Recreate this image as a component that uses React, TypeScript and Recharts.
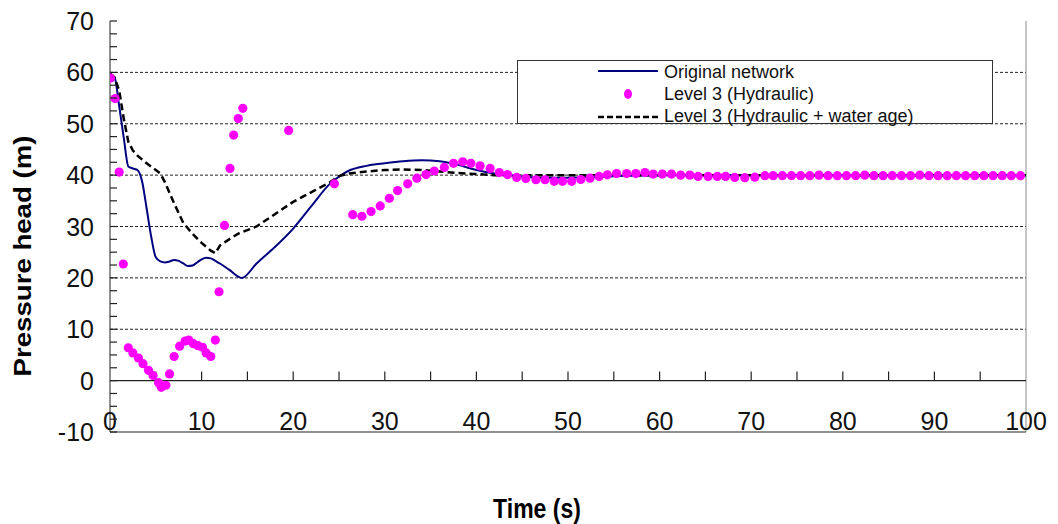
import { ComposedChart, Line, Scatter, XAxis, YAxis, ReferenceLine, Legend } from "recharts";

const FONT = '"Liberation Sans", Arial, sans-serif';

const xTicks = [0, 10, 20, 30, 40, 50, 60, 70, 80, 90, 100];
const xMinorTicks = [5, 10, 15, 20, 25, 30, 35, 40, 45, 50, 55, 60, 65, 70, 75, 80, 85, 90, 95];
const yTicks = [
  -10, -7.5, -5, -2.5, 0, 2.5, 5, 7.5, 10, 12.5, 15, 17.5, 20, 22.5, 25, 27.5, 30, 32.5, 35, 37.5,
  40, 42.5, 45, 47.5, 50, 52.5, 55, 57.5, 60, 62.5, 65, 67.5, 70,
];
const gridLevels = [10, 20, 30, 40, 50, 60];

// Original network (solid navy line)
const originalTime = [
  0, 0.5, 1, 1.5, 2, 2.5, 3, 3.5, 4, 4.5,
  5, 5.5, 6, 6.5, 7, 7.5, 8, 8.5, 9, 9.5,
  10, 10.5, 11, 11.5, 12, 13, 14.4, 16, 18, 20,
  22, 24, 25, 26, 28, 30, 32, 34, 36, 38,
  40, 42, 44, 46, 48, 50, 55, 60, 70, 80,
  90, 100,
];
const originalHead = [
  59.5, 59, 53.5, 47.3, 41.7, 41.3, 41, 38.8, 33.5, 28,
  24, 23.2, 23, 23.2, 23.5, 23.3, 22.8, 22.3, 22.4, 23,
  23.6, 23.9, 23.8, 23.3, 22.8, 21.6, 20, 22.8, 26, 29.6,
  34, 38.3, 39.7, 40.8, 41.8, 42.3, 42.7, 42.9, 42.7, 42,
  41, 40.3, 39.9, 39.6, 39.5, 39.5, 39.8, 40, 40, 40,
  40, 40,
];

// Level 3 (Hydraulic + water age) (dashed black line)
const ageTime = [
  0, 0.5, 1, 1.5, 2, 2.5, 3, 4, 5, 5.5,
  6, 7, 8, 9, 10, 11, 11.5, 12, 13, 14,
  16, 18, 20, 22, 24, 25, 26, 28, 30, 32,
  34, 36, 38, 40, 42, 50, 60, 70, 80, 90,
  100,
];
const ageHead = [
  59.8, 59, 56.5, 51, 46.5, 44.8, 43.8, 42.3, 41, 40.3,
  38.6, 34.5, 30.7, 28.6, 26.8, 25.3, 24.8, 26.3, 27.5, 28.6,
  30, 32.4, 34.8, 36.7, 38.6, 39.8, 40.3, 40.7, 41, 41.1,
  41, 40.7, 40.4, 40.2, 40, 40, 40, 40, 40, 40,
  40,
];

// Level 3 (Hydraulic) (magenta dots)
const hydTime = [
  0.05, 0.55, 1.0, 1.45, 2.0, 2.5, 3.1, 3.6, 4.2, 4.7,
  5.3, 5.6, 6.1, 6.5, 7.0, 7.6, 8.2, 8.6, 9.1, 9.6,
  10.1, 10.5, 11.0, 11.5, 11.9, 12.5, 13.1, 13.5, 14.0, 14.5,
  19.5, 24.5, 26.5, 27.5, 28.5, 29.5, 30.5, 31.4, 32.5, 33.5,
  34.5, 35.4, 36.5, 37.5, 38.5, 39.4, 40.4, 41.5, 42.5, 43.4,
  44.4, 45.4, 46.5, 47.5, 48.5, 49.4, 50.4, 51.4, 52.4, 53.4,
  54.3, 55.3, 56.4, 57.4, 58.4, 59.3, 60.3, 61.3, 62.3, 63.3,
  64.2, 65.3, 66.3, 67.2, 68.2, 69.3, 70.4, 71.5, 72.4, 73.4,
  74.4, 75.4, 76.4, 77.4, 78.4, 79.4, 80.4, 81.4, 82.4, 83.4,
  84.4, 85.4, 86.4, 87.4, 88.4, 89.4, 90.4, 91.4, 92.4, 93.4,
  94.4, 95.4, 96.4, 97.4, 98.4, 99.4,
];
const hydHead = [
  58.9, 54.9, 40.6, 22.7, 6.4, 5.4, 4.4, 3.3, 2.0, 1.0,
  -0.4, -1.3, -0.9, 1.3, 4.7, 6.7, 7.7, 7.9, 7.2, 6.8,
  6.5, 5.4, 4.7, 7.9, 17.3, 30.2, 41.3, 47.8, 51.0, 53.0,
  48.7, 38.3, 32.3, 32.0, 32.9, 34.0, 35.5, 37.0, 38.3, 39.4,
  40.1, 40.8, 41.5, 42.3, 42.6, 42.3, 41.8, 41.3, 40.5, 40.1,
  39.55, 39.35, 39.1, 39.1, 38.8, 38.8, 38.8, 39.15, 39.4, 39.75,
  40.05, 40.3, 40.3, 40.3, 40.5, 40.2, 40.2, 40.2, 40.0, 40.0,
  39.75, 39.75, 39.75, 39.75, 39.55, 39.5, 39.6, 39.9, 39.9, 39.9,
  39.9, 39.9, 39.9, 40.0, 39.9, 39.9, 39.9, 39.9, 40.0, 39.9,
  39.9, 39.9, 39.9, 39.9, 40.0, 39.9, 39.9, 39.9, 39.9, 39.9,
  39.9, 39.9, 39.9, 39.9, 39.9, 39.9,
];

const pairUp = (ts: number[], ps: number[]) => ts.map((t, i) => ({ t, p: ps[i] }));
const originalData = pairUp(originalTime, originalHead);
const ageData = pairUp(ageTime, ageHead);
const hydData = pairUp(hydTime, hydHead);

const XTick = ({ x, y, payload }: any) => (
  <text x={x} y={y - 2} textAnchor="middle" fontSize={25} fill="#111" fontFamily={FONT}>
    {payload.value}
  </text>
);

const YTick = ({ x, y, payload }: any) => (
  <g>
    <line x1={x} x2={x + 7} y1={y} y2={y} stroke="#222" strokeWidth={1.2} />
    {payload.value % 10 === 0 && (
      <text x={x - 16} y={y} dy={9} textAnchor="end" fontSize={25} fill="#111" fontFamily={FONT}>
        {payload.value}
      </text>
    )}
  </g>
);

const LegendBox = () => {
  const rows = [
    { label: "Original network", kind: "line" },
    { label: "Level 3 (Hydraulic)", kind: "dot" },
    { label: "Level 3 (Hydraulic + water age)", kind: "dash" },
  ];
  return (
    <div
      style={{
        width: 474,
        height: 62,
        border: "1px solid #333",
        background: "#fff",
        fontFamily: FONT,
        fontSize: 18,
        color: "#111",
        position: "relative",
      }}
    >
      {rows.map((r, i) => (
        <div key={r.label} style={{ position: "absolute", left: 0, top: i * 22, height: 22, width: 474 }}>
          <svg width={70} height={22} style={{ position: "absolute", left: 78, top: 0 }}>
            {r.kind === "line" && <line x1={2} x2={62} y1={10} y2={10} stroke="#000080" strokeWidth={2} />}
            {r.kind === "dot" && <ellipse cx={32} cy={11} rx={4} ry={5} fill="#ff00ff" />}
            {r.kind === "dash" && (
              <line x1={2} x2={62} y1={12} y2={12} stroke="#000" strokeWidth={2.5} strokeDasharray="6 3" />
            )}
          </svg>
          <span style={{ position: "absolute", left: 146, top: 0, lineHeight: "22px", whiteSpace: "nowrap" }}>
            {r.label}
          </span>
        </div>
      ))}
    </div>
  );
};

export default function App() {
  return (
    <div style={{ position: "absolute", left: 0, top: 0, width: 1058, height: 524, background: "#fff" }}>
      <ComposedChart width={1058} height={524} margin={{ top: 21, right: 32, bottom: 62, left: 50 }}>
        <XAxis
          type="number"
          dataKey="t"
          domain={[0, 100]}
          ticks={xTicks}
          interval={0}
          tick={<XTick />}
          tickLine={false}
          tickSize={0}
          tickMargin={0}
          axisLine={{ stroke: "#222" }}
          height={30}
          allowDataOverflow
        />
        <YAxis
          type="number"
          dataKey="p"
          domain={[-10, 70]}
          ticks={yTicks}
          interval={0}
          tick={<YTick />}
          tickLine={false}
          tickSize={0}
          tickMargin={0}
          axisLine={{ stroke: "#222" }}
          width={60}
          allowDataOverflow
        />
        {gridLevels.map((g) => (
          <ReferenceLine key={g} y={g} stroke="#222" strokeDasharray="3 2" />
        ))}
        <ReferenceLine x={100} stroke="#888" />
        <ReferenceLine y={0} stroke="#222" strokeWidth={1.2} />
        {xMinorTicks.map((m) => (
          <ReferenceLine
            key={"m" + m}
            segment={[{ x: m, y: 0 }, { x: m, y: 1.8 }]}
            stroke="#222"
            strokeWidth={1.2}
          />
        ))}
        <Line
          data={originalData}
          dataKey="p"
          type="monotone"
          stroke="#000080"
          strokeWidth={2}
          dot={false}
          isAnimationActive={false}
        />
        <Line
          data={ageData}
          dataKey="p"
          type="linear"
          stroke="#000"
          strokeWidth={2.5}
          strokeDasharray="7 4"
          dot={false}
          isAnimationActive={false}
        />
        <Scatter
          data={hydData}
          dataKey="p"
          fill="#ff00ff"
          isAnimationActive={false}
          shape={(props: any) => <circle cx={props.cx} cy={props.cy} r={4.6} fill="#ff00ff" />}
        />
        <Legend
          layout="horizontal"
          verticalAlign="middle"
          align="center"
          content={() => <LegendBox />}
          wrapperStyle={{ position: "absolute", left: 517, top: 60, width: 476, height: 64 }}
        />
      </ComposedChart>
      <div
        style={{
          position: "absolute",
          left: 537,
          top: 509,
          transform: "translate(-50%, -50%) scaleY(1.2)",
          fontFamily: FONT,
          fontWeight: "bold",
          fontSize: 23,
          whiteSpace: "nowrap",
          color: "#000",
        }}
      >
        Time (s)
      </div>
      <div
        style={{
          position: "absolute",
          left: 23,
          top: 256,
          transform: "translate(-50%, -50%) rotate(-90deg) scaleX(1.2)",
          fontFamily: FONT,
          fontWeight: "bold",
          fontSize: 23,
          whiteSpace: "nowrap",
          color: "#000",
        }}
      >
        Pressure head (m)
      </div>
    </div>
  );
}
